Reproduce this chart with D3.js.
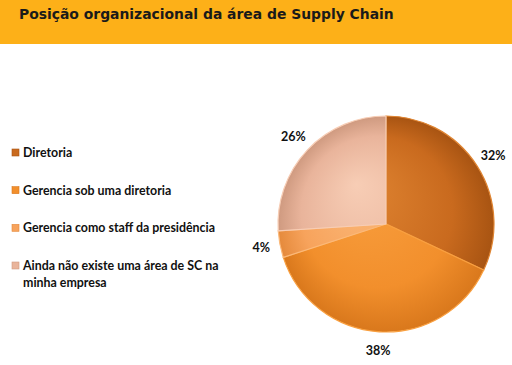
<!DOCTYPE html>
<html>
<head>
<meta charset="utf-8">
<script src="https://cdn.jsdelivr.net/npm/d3@7"></script>
<style>
  body { margin: 0; background: #fff; }
  svg { display: block; }
</style>
</head>
<body>
<svg id="chart"></svg>
<script>
// Data
var title = "Posição organizacional da área de Supply Chain";
var categories = ["Diretoria", "Gerencia sob uma diretoria", "Gerencia como staff da presidência", "Ainda não existe uma área de SC na minha empresa"];
var values = [32, 38, 4, 26];
var pctLabels = ["32%", "38%", "4%", "26%"];

var width = 512, height = 365;
var colors = ["#c96a1e", "#f28f2c", "#f7a35c", "#e9b49b"];
var lightColors = ["#e08532", "#f9a040", "#fbb97a", "#f7cdb5"];
var darkColors = ["#a85412", "#d9781c", "#e58a3c", "#cf9a80"];

var svg = d3.select("#chart").attr("width", width).attr("height", height);
var defs = svg.append("defs");

// Title bar
svg.append("rect").attr("x", 0).attr("y", 0).attr("width", width).attr("height", 44).attr("fill", "#fdb018");
svg.append("text")
    .attr("x", 19).attr("y", 19)
    .attr("font-family", "DejaVu Sans")
    .attr("font-weight", "bold")
    .attr("font-size", 13.9)
    .attr("fill", "#1a1a1a")
    .text(title);

// Legend
var legendY = d3.scalePoint().domain(d3.range(categories.length)).range([157, 270]);
var legend = svg.append("g");
categories.forEach(function(c, i) {
    var y = legendY(i);
    legend.append("rect")
        .attr("x", 12).attr("y", y - 8).attr("width", 7).attr("height", 7)
        .attr("fill", colors[i]).attr("stroke", darkColors[i]).attr("stroke-width", 0.6);
    var t = legend.append("text")
        .attr("x", 23).attr("y", y)
        .attr("font-family", "Lato")
        .attr("font-weight", "bold")
        .attr("font-size", 12.4)
        .attr("fill", "#111");
    if (i === 3) {
        t.append("tspan").attr("x", 23).text("Ainda não existe uma área de SC na");
        t.append("tspan").attr("x", 23).attr("dy", 17).text("minha empresa");
    } else {
        t.text(c);
    }
});

// Pie
var cx = 386, cy = 224, r = 108;
var pie = d3.pie().sort(null).value(function(d) { return d; });
var arcs = pie(values);
var arc = d3.arc().innerRadius(0).outerRadius(r);
var labelArc = d3.arc().innerRadius(r + 19).outerRadius(r + 19);

arcs.forEach(function(a, i) {
    var g = defs.append("radialGradient")
        .attr("id", "grad" + i)
        .attr("gradientUnits", "userSpaceOnUse")
        .attr("cx", 0).attr("cy", 0).attr("r", r)
        .attr("fx", -30).attr("fy", -40);
    g.append("stop").attr("offset", "0%").attr("stop-color", lightColors[i]);
    g.append("stop").attr("offset", "70%").attr("stop-color", colors[i]);
    g.append("stop").attr("offset", "100%").attr("stop-color", darkColors[i]);
});

var pieG = svg.append("g").attr("transform", "translate(" + cx + "," + cy + ")");
pieG.selectAll("path")
    .data(arcs)
    .enter()
    .append("path")
    .attr("d", arc)
    .attr("fill", function(d, i) { return "url(#grad" + i + ")"; })
    .attr("stroke", function(d, i) { return lightColors[i]; })
    .attr("stroke-width", 1.2);

pieG.selectAll("text")
    .data(arcs)
    .enter()
    .append("text")
    .attr("transform", function(d) { return "translate(" + labelArc.centroid(d) + ")"; })
    .attr("text-anchor", "middle")
    .attr("dy", "0.35em")
    .attr("font-family", "Lato")
    .attr("font-weight", "bold")
    .attr("font-size", 12.5)
    .attr("fill", "#111")
    .text(function(d, i) { return pctLabels[i]; });
</script>
</body>
</html>
